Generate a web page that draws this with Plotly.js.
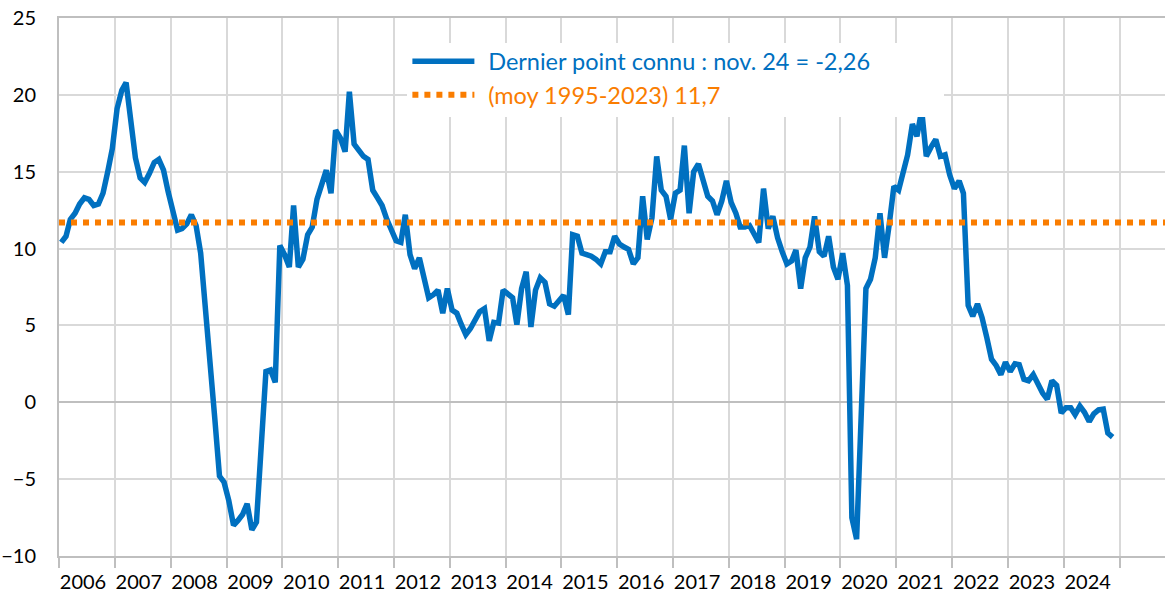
<!DOCTYPE html>
<html>
<head>
<meta charset="utf-8">
<script src="https://cdn.plot.ly/plotly-3.0.1.min.js"></script>
<style>
  html, body { margin: 0; padding: 0; background: #ffffff; }
  #chart { width: 1165px; height: 592px; }
</style>
</head>
<body>
<div id="chart"></div>
<script>
// Monthly values, Jan 2006 .. Nov 2024
const startYear = 2006;
const values = [
  10.4, 10.8, 11.9, 12.3, 12.9, 13.3, 13.2, 12.8, 12.9, 13.6, 15.0, 16.5,   // 2006
  19.1, 20.3, 20.8, 17.9, 15.9, 14.6, 14.3, 14.9, 15.6, 15.8, 15.1, 13.7,   // 2007
  12.3, 11.2, 11.3, 11.6, 12.2, 11.5, 9.7, 6.4, 2.8, -1.0, -4.8, -5.2,      // 2008
  -6.4, -8.0, -7.7, -7.3, -6.6, -8.3, -7.8, -2.5, 2.0, 2.1, 1.3, 10.2,      // 2009
  9.6, 8.8, 12.8, 8.8, 9.3, 10.9, 11.4, 13.2, 14.3, 15.1, 13.6, 17.7,       // 2010
  17.2, 16.3, 20.2, 16.8, 16.4, 16.0, 15.8, 13.8, 13.3, 12.8, 11.9, 11.2,   // 2011
  10.5, 10.4, 12.2, 9.6, 8.7, 9.4, 8.1, 6.8, 7.0, 7.3, 5.8, 7.4,            // 2012
  6.0, 5.8, 5.1, 4.4, 4.8, 5.3, 5.9, 6.1, 4.0, 5.2, 5.15, 7.3,              // 2013
  7.0, 6.8, 5.05, 7.4, 8.5, 4.9, 7.3, 8.1, 7.8, 6.4, 6.25, 6.6,             // 2014
  6.96, 5.7, 10.9, 10.8, 9.7, 9.6, 9.5, 9.3, 9.0, 9.8, 9.8, 10.8,           // 2015
  10.3, 10.1, 9.95, 9.0, 9.4, 13.4, 10.6, 12.0, 16.0, 13.8, 13.4, 11.9,     // 2016
  13.6, 13.8, 16.7, 12.3, 15.0, 15.5, 14.4, 13.4, 13.1, 12.2, 13.1, 14.4,   // 2017
  13.0, 12.3, 11.4, 11.4, 11.5, 11.0, 10.4, 13.9, 11.3, 12.1, 10.7, 9.8,    // 2018
  9.0, 9.2, 9.9, 7.4, 9.4, 10.1, 12.1, 9.8, 9.5, 10.8, 8.8, 8.0,            // 2019
  9.7, 7.6, -7.5, -8.9, -0.6, 7.4, 8.0, 9.4, 12.3, 9.4, 11.6, 14.05,        // 2020
  13.8, 15.2, 16.1, 18.1, 17.3, 19.0, 16.0, 16.6, 17.1, 16.0, 16.1, 14.8,   // 2021
  13.9, 14.4, 13.6, 6.3, 5.6, 6.4, 5.5, 4.2, 2.8, 2.4, 1.8, 2.6,            // 2022
  2.0, 2.5, 2.45, 1.5, 1.4, 1.8, 1.1, 0.6, 0.2, 1.4, 1.1, -0.7,             // 2023
  -0.35, -0.35, -0.8, -0.25, -0.65, -1.25, -0.75, -0.5, -0.45, -2.0, -2.26  // 2024
];
const averageValue = [11.7, 11.7];
const yearLabels = ['2006','2007','2008','2009','2010','2011','2012','2013','2014','2015',
                    '2016','2017','2018','2019','2020','2021','2022','2023','2024',''];
const seriesName = 'Dernier point connu : nov. 24 = -2,26';
const averageName = '(moy 1995-2023) 11,7';

const BLUE = '#0070C0';
const ORANGE = '#FA7D00';
const FONT = 'Lato, "Open Sans", sans-serif';
const GAP = '\u2005\u2009';

function pad(n) { return (n < 10 ? '0' : '') + n; }
const months = values.map((v, i) => {
  const y = startYear + Math.floor(i / 12);
  const m = (i % 12) + 1;
  return y + '-' + pad(m) + '-16';
});
const xStart = startYear + '-01-01';
const xEnd = '2025-10-25';
const yearTicks = yearLabels.map((t, i) => (startYear + i) + '-01-01');

const traces = [
  {
    x: months, y: values, type: 'scatter', mode: 'lines',
    name: '<span style="color:' + BLUE + '">' + GAP + seriesName + '</span>',
    line: { color: BLUE, width: 5.5, shape: 'linear' },
    hoverinfo: 'skip'
  },
  {
    x: [xStart, xEnd], y: averageValue, type: 'scatter', mode: 'lines',
    name: '<span style="color:' + ORANGE + '">' + GAP + averageName + '</span>',
    line: { color: ORANGE, width: 6, dash: 'dot' },
    hoverinfo: 'skip'
  }
];

const layout = {
  width: 1165, height: 592,
  margin: { l: 59, r: 0, t: 18, b: 36, pad: 0 },
  paper_bgcolor: '#ffffff', plot_bgcolor: '#ffffff',
  font: { family: FONT, size: 20, color: '#000000' },
  showlegend: true,
  legend: {
    x: 0.315, y: 0.96, xanchor: 'left', yanchor: 'top',
    bgcolor: 'rgba(0,0,0,0)', borderwidth: 0,
    font: { family: FONT, size: 23.5 },
    itemwidth: 62, tracegroupgap: 0
  },
  shapes: [
    { type: 'rect', xref: 'paper', yref: 'paper', layer: 'above',
      x0: (407 - 59) / 1106, x1: (944 - 59) / 1106,
      y0: (556 - 117) / 538, y1: (556 - 43) / 538,
      fillcolor: '#ffffff', line: { width: 0 } }
  ],
  xaxis: {
    type: 'date', range: [xStart, xEnd],
    tickmode: 'array', tickvals: yearTicks, ticktext: yearLabels,
    ticklabelshift: 24, ticklabelstandoff: -3,
    ticks: 'outside', ticklen: 10, tickwidth: 2, tickcolor: '#bfbfbf',
    showgrid: true, gridcolor: '#d9d9d9', gridwidth: 2,
    showline: true, linecolor: '#bfbfbf', linewidth: 2, mirror: true,
    tickfont: { family: FONT, size: 20, color: '#000000' },
    fixedrange: true
  },
  yaxis: {
    range: [-10, 25], tickmode: 'linear', tick0: -10, dtick: 5,
    ticks: '', ticklabelstandoff: 17,
    showgrid: true, gridcolor: '#d9d9d9', gridwidth: 2,
    zeroline: true, zerolinecolor: '#bfbfbf', zerolinewidth: 2,
    showline: true, linecolor: '#bfbfbf', linewidth: 2,
    tickfont: { family: FONT, size: 20, color: '#000000' },
    fixedrange: true
  }
};

Plotly.newPlot('chart', traces, layout, { displayModeBar: false, staticPlot: true });
</script>
</body>
</html>
